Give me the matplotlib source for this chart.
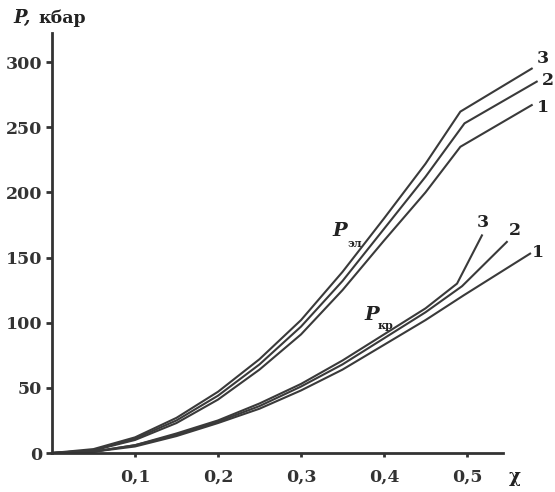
import matplotlib.pyplot as plt

# P_el curves (upper group), one list per curve 1..3
chi_el_1 = [0.0, 0.05, 0.1, 0.15, 0.2, 0.25, 0.3, 0.35, 0.4, 0.45, 0.492, 0.578]
p_el_1 = [0, 2, 10, 23, 41, 64, 91, 125, 163, 200, 235, 267]
chi_el_2 = [0.0, 0.05, 0.1, 0.15, 0.2, 0.25, 0.3, 0.35, 0.4, 0.45, 0.497, 0.584]
p_el_2 = [0, 2, 11, 25, 44, 68, 97, 132, 172, 212, 253, 285]
chi_el_3 = [0.0, 0.05, 0.1, 0.15, 0.2, 0.25, 0.3, 0.35, 0.4, 0.45, 0.492, 0.578]
p_el_3 = [0, 3, 12, 27, 47, 72, 102, 139, 180, 222, 262, 295]

# P_kr curves (lower group)
chi_kr_1 = [0.0, 0.05, 0.1, 0.15, 0.2, 0.25, 0.3, 0.35, 0.4, 0.45, 0.496, 0.576]
p_kr_1 = [0, 1, 5, 13, 23, 34, 48, 64, 83, 102, 121, 153]
chi_kr_2 = [0.0, 0.05, 0.1, 0.15, 0.2, 0.25, 0.3, 0.35, 0.4, 0.45, 0.494, 0.548]
p_kr_2 = [0, 1, 6, 14, 24, 36, 51, 68, 88, 108, 128, 162]
chi_kr_3 = [0.0, 0.05, 0.1, 0.15, 0.2, 0.25, 0.3, 0.35, 0.4, 0.45, 0.488, 0.518]
p_kr_3 = [0, 1, 6, 15, 25, 38, 53, 71, 91, 111, 130, 167]

xticks = [0.1, 0.2, 0.3, 0.4, 0.5]
xticklabels = ['0,1', '0,2', '0,3', '0,4', '0,5']
yticks = [0, 50, 100, 150, 200, 250, 300]

plt.rcParams['font.family'] = 'DejaVu Serif'
plt.rcParams['font.weight'] = 'bold'

fig = plt.figure(figsize=(5.55, 4.92), dpi=100)
ax = fig.add_axes([52 / 555, 39 / 492, 498 / 555, 430 / 492])
ax.set_xlim(0, 0.6)
ax.set_ylim(0, 330)

col = '#3a3a3a'
for x, y in [(chi_el_1, p_el_1), (chi_el_2, p_el_2), (chi_el_3, p_el_3),
             (chi_kr_1, p_kr_1), (chi_kr_2, p_kr_2), (chi_kr_3, p_kr_3)]:
    ax.plot(x, y, color=col, lw=1.5, clip_on=False, solid_joinstyle='round')

for s in ['top', 'right']:
    ax.spines[s].set_visible(False)
for s in ['left', 'bottom']:
    ax.spines[s].set_linewidth(2)
    ax.spines[s].set_color('#333333')
ax.spines['bottom'].set_bounds(0, 0.543)
ax.spines['left'].set_bounds(0, 322)

ax.set_xticks(xticks)
ax.set_xticklabels(xticklabels)
ax.set_yticks(yticks)
ax.tick_params(axis='x', direction='out', length=3, width=2, pad=8,
               labelsize=12.5, colors='#333333')
ax.tick_params(axis='y', direction='out', length=4, width=2, pad=3,
               labelsize=12.5, colors='#333333')

fs = 12.5
# curve numbers
for t, x, y in [('3', 0.5916, 303), ('2', 0.5976, 286), ('1', 0.5916, 265),
                ('3', 0.519, 177), ('2', 0.558, 171), ('1', 0.5855, 154)]:
    ax.text(x, y, t, fontsize=fs, ha='center', va='center', color='#222222',
            clip_on=False)

ax.text(0.347, 170, 'P', fontsize=14, style='italic', ha='center', va='center',
        color='#222222')
ax.text(0.365, 161, 'эл', fontsize=8, ha='center', va='center', color='#222222')
ax.text(0.3855, 106, 'P', fontsize=14, style='italic', ha='center', va='center',
        color='#222222')
ax.text(0.402, 97.5, 'кр', fontsize=8, ha='center', va='center', color='#222222')

fig.text(13 / 555, 1 - 18 / 492, 'P,', fontsize=13, style='italic',
         ha='left', va='center', color='#222222')
fig.text(38 / 555, 1 - 18 / 492, 'кбар', fontsize=12.5, ha='left', va='center',
         color='#222222')
fig.text(515 / 555, 1 - 477 / 492, 'χ', fontsize=13, ha='center', va='center',
         color='#222222')

fig.savefig('out.png', dpi=100)
